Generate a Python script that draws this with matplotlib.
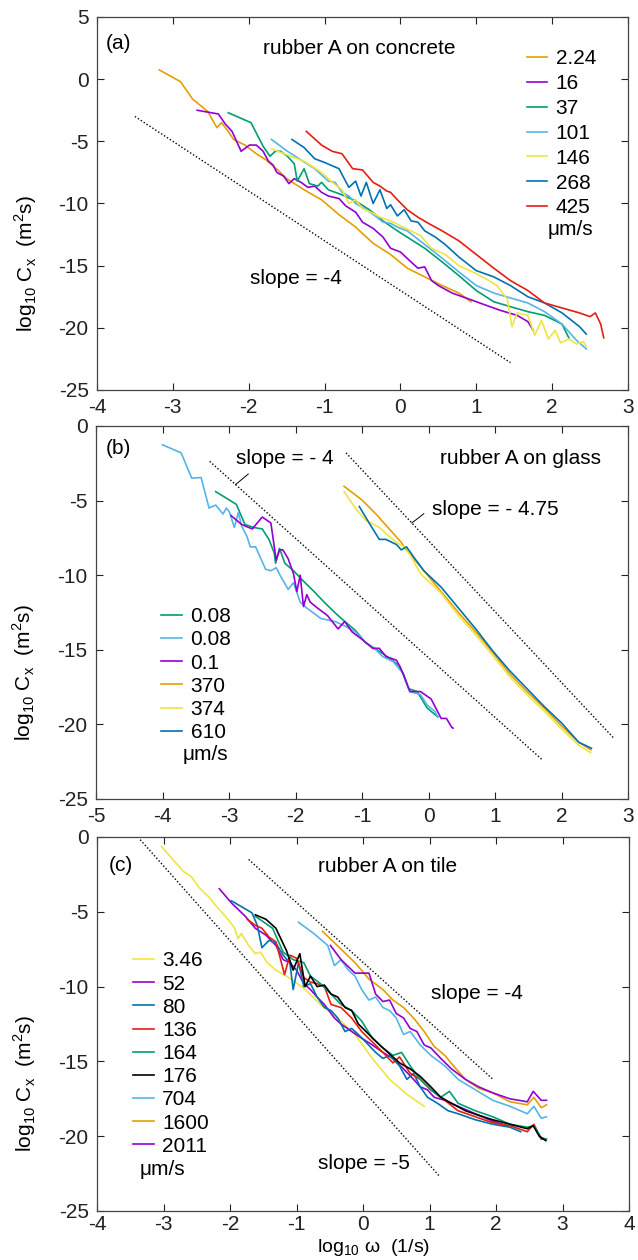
#!/usr/bin/env python3
import numpy as np
import matplotlib
matplotlib.use("Agg")
from matplotlib import pyplot as plt

plt.rcParams['font.family'] = ['Liberation Sans', 'DejaVu Sans']
plt.rcParams['mathtext.fontset'] = 'custom'
plt.rcParams['mathtext.rm'] = 'Liberation Sans'
plt.rcParams['font.size'] = 15
plt.rcParams['axes.unicode_minus'] = False

# gnuplot-like colour set
C_PURPLE = '#9400D3'
C_GREEN = '#009E73'
C_LBLUE = '#56B4E9'
C_ORANGE = '#E69F00'
C_YELLOW = '#F0E442'
C_BLUE = '#0072B2'
C_RED = '#E51E10'
C_BLACK = '#000000'

# %% panel (a): rubber A on concrete
a_labels = ['2.24', '16', '37', '101', '146', '268', '425']
a_x_224 = [-3.18, -2.9, -2.74, -2.54, -2.42, -2.36, -2.27, -2.2, -2.05, -1.9, -1.77, -1.6, -1.5,
           -1.27, -1.04, -0.81, -0.59, -0.36, -0.13, 0.09, 0.32, 0.55, 0.77, 0.93]
a_y_224 = [0.75, -0.2, -1.6, -2.6, -3.9, -3.5, -4.2, -4.85, -5.3, -6.0, -6.5, -7.4, -8.0,
           -8.9, -9.7, -10.9, -11.9, -13.2, -14.1, -15.2, -15.9, -16.6, -17.2, -17.9]
a_x_16 = [-2.68, -2.4, -2.31, -2.22, -2.1, -1.99, -1.9, -1.81, -1.74, -1.68, -1.63, -1.54, -1.47,
          -1.4, -1.31, -1.22, -1.13, -1.04, -0.95, -0.81, -0.72, -0.59, -0.5, -0.36, -0.23, -0.13,
          0.0, 0.14, 0.23, 0.32, 0.41, 0.5, 0.68, 0.91, 1.09, 1.32, 1.54, 1.68, 1.75]
a_y_16 = [-2.5, -2.8, -3.6, -4.2, -5.8, -5.3, -5.3, -5.8, -6.6, -6.9, -7.5, -7.8, -8.4,
          -8.0, -8.3, -8.7, -8.6, -9.1, -9.4, -9.6, -10.2, -10.7, -11.5, -12.0, -12.7, -13.6,
          -13.9, -14.7, -15.2, -15.1, -16.2, -16.6, -17.2, -17.7, -18.1, -18.6, -19.0, -19.5, -20.2]
a_x_37 = [-2.27, -1.97, -1.81, -1.72, -1.65, -1.58, -1.49, -1.4, -1.36, -1.27, -1.2, -1.09, -1.04,
          -0.95, -0.77, -0.59, -0.41, -0.23, -0.04, 0.14, 0.32, 0.55, 0.77, 1.0, 1.23, 1.45,
          1.68, 1.9, 2.13, 2.22]
a_y_37 = [-2.7, -3.5, -5.4, -6.2, -5.8, -5.8, -6.2, -6.8, -8.2, -7.2, -8.4, -8.6, -8.3,
          -8.9, -9.3, -9.8, -10.5, -11.4, -12.2, -12.9, -13.6, -14.7, -15.8, -17.0, -17.9, -18.3,
          -18.7, -19.0, -19.7, -20.8]
a_x_101 = [-1.7, -1.49, -1.31, -1.13, -0.95, -0.86, -0.77, -0.68, -0.59, -0.45, -0.31, -0.23,
           -0.13, -0.04, 0.09, 0.32, 0.55, 0.77, 1.0, 1.23, 1.45, 1.68, 1.9, 2.13, 2.32, 2.45]
a_y_101 = [-4.85, -5.8, -6.5, -7.2, -8.2, -8.3, -9.1, -9.4, -10.0, -10.5, -11.1, -11.5,
           -11.6, -11.9, -12.2, -13.3, -14.4, -15.5, -16.6, -17.2, -17.6, -18.0, -18.7, -19.7, -21.0, -21.7]
a_x_146 = [-1.7, -1.49, -1.27, -1.04, -0.9, -0.77, -0.68, -0.59, -0.5, -0.36, -0.27, -0.13, 0.0,
           0.14, 0.27, 0.41, 0.59, 0.77, 0.95, 1.14, 1.27, 1.41, 1.47, 1.54, 1.68, 1.77, 1.86,
           1.95, 2.04, 2.11, 2.22, 2.32, 2.41, 2.45]
a_y_146 = [-5.6, -6.1, -6.6, -7.5, -8.3, -8.9, -10.0, -9.7, -10.4, -10.8, -11.1, -11.4, -11.8,
           -12.2, -12.6, -13.6, -14.1, -15.0, -15.5, -16.1, -16.6, -17.7, -19.9, -18.8, -19.0, -20.6, -19.4,
           -20.9, -20.2, -21.2, -20.9, -21.3, -21.1, -21.5]
a_x_268 = [-1.43, -1.27, -1.13, -1.0, -0.81, -0.68, -0.59, -0.52, -0.45, -0.36, -0.27, -0.18,
           -0.13, -0.04, 0.05, 0.14, 0.23, 0.32, 0.46, 0.59, 0.77, 1.0, 1.23, 1.45, 1.68, 1.9,
           2.13, 2.36, 2.45]
a_y_268 = [-4.85, -5.5, -6.4, -6.7, -7.2, -8.7, -8.2, -9.4, -8.3, -10.0, -8.9, -10.4,
           -10.1, -11.0, -10.5, -11.4, -11.5, -12.2, -12.7, -13.3, -14.3, -15.4, -15.9, -16.6, -17.5, -18.0,
           -18.8, -19.9, -20.5]
a_x_425 = [-1.24, -1.04, -0.9, -0.77, -0.63, -0.5, -0.36, -0.27, -0.18, -0.13, -0.04, 0.09, 0.23,
           0.37, 0.55, 0.77, 1.0, 1.23, 1.45, 1.68, 1.9, 2.13, 2.36, 2.5, 2.57, 2.64, 2.68]
a_y_425 = [-4.2, -5.3, -5.8, -6.0, -7.2, -7.3, -8.3, -8.6, -9.0, -9.1, -9.7, -10.5, -11.1,
           -11.6, -12.2, -13.0, -14.1, -15.2, -16.2, -17.0, -18.0, -18.4, -18.8, -19.1, -18.8, -19.7, -20.8]

# %% panel (b): rubber A on glass
b_labels = ['0.08', '0.08', '0.1', '370', '374', '610']
b_x_008g = [-3.2, -2.89, -2.76, -2.63, -2.5, -2.4, -2.32, -2.3, -2.24, -2.16, -2.03, -1.88, -1.72,
            -1.57, -1.41, -1.26, -1.1, -0.95, -0.74, -0.59, -0.43, -0.3, -0.17, -0.02, 0.14]
b_y_008g = [-4.4, -5.25, -6.6, -6.8, -6.9, -7.6, -8.5, -9.2, -8.2, -9.2, -9.7, -10.4, -11.1,
            -11.8, -12.5, -13.1, -13.7, -14.5, -15.1, -15.55, -16.1, -17.6, -17.8, -18.9, -19.5]
b_x_008b = [-4.0, -3.72, -3.56, -3.42, -3.3, -3.2, -3.09, -3.04, -2.99, -2.92, -2.86, -2.81, -2.73,
            -2.68, -2.6, -2.53, -2.45, -2.37, -2.29, -2.22, -2.11, -2.03, -1.93, -1.83, -1.62, -1.41,
            -1.26, -1.1, -0.95, -0.79, -0.69, -0.53, -0.38, -0.28, -0.12, -0.02, 0.09, 0.14]
b_y_008b = [-1.26, -1.8, -3.5, -3.45, -5.5, -5.3, -5.9, -5.5, -5.8, -6.8, -5.8, -6.7, -7.4,
            -8.1, -8.1, -8.8, -9.6, -9.7, -9.5, -10.1, -10.95, -10.5, -11.8, -12.2, -12.9, -13.1,
            -13.4, -13.8, -14.5, -15.0, -15.45, -15.8, -16.6, -17.8, -18.0, -18.7, -19.1, -19.5]
b_x_01 = [-2.97, -2.81, -2.65, -2.5, -2.37, -2.29, -2.24, -2.19, -2.11, -2.03, -1.98, -1.93, -1.88,
          -1.83, -1.78, -1.67, -1.52, -1.36, -1.26, -1.15, -1.0, -0.84, -0.74, -0.64, -0.48, -0.38,
          -0.28, -0.12, 0.04, 0.19, 0.27, 0.35, 0.37]
b_y_01 = [-6.0, -6.6, -6.9, -6.1, -6.5, -9.0, -8.3, -8.3, -8.9, -9.9, -11.1, -10.0, -12.1,
          -11.3, -11.8, -12.2, -12.7, -13.6, -13.1, -13.8, -14.3, -14.9, -14.9, -15.45, -15.7, -16.6,
          -17.8, -17.8, -18.3, -19.6, -19.6, -20.2, -20.25]
b_x_370 = [-1.27, -1.0, -0.79, -0.59, -0.41, -0.33, -0.07, 0.19, 0.45, 0.71, 0.97, 1.22, 1.48,
           1.74, 2.0, 2.26, 2.44]
b_y_370 = [-4.04, -4.96, -5.9, -6.9, -7.8, -8.3, -9.7, -11.1, -12.5, -13.8, -15.2, -16.6, -17.8,
           -18.9, -20.1, -21.2, -21.7]
b_x_374 = [-1.27, -1.1, -0.95, -0.74, -0.59, -0.48, -0.33, -0.12, 0.19, 0.45, 0.71, 0.97, 1.22,
           1.48, 1.74, 2.0, 2.26, 2.44]
b_y_374 = [-4.4, -5.5, -6.3, -6.8, -7.4, -7.8, -8.2, -9.9, -11.2, -12.7, -14.0, -15.4, -16.8,
           -18.0, -19.1, -20.3, -21.4, -21.9]
b_x_610 = [-1.04, -0.9, -0.74, -0.64, -0.48, -0.41, -0.33, -0.22, -0.07, 0.19, 0.45, 0.71, 0.97,
           1.22, 1.48, 1.74, 2.0, 2.26, 2.45]
b_y_610 = [-5.4, -6.45, -7.6, -7.6, -7.95, -8.3, -8.1, -8.8, -9.7, -10.8, -12.2, -13.6, -15.1,
           -16.4, -17.6, -18.8, -19.9, -21.2, -21.6]

# %% panel (c): rubber A on tile
c_labels = ['3.46', '52', '80', '136', '164', '176', '704', '1600', '2011']
c_x_346 = [-3.03, -2.86, -2.7, -2.58, -2.45, -2.32, -2.19, -2.03, -1.93, -1.88, -1.83, -1.72, -1.62,
           -1.54, -1.44, -1.31, -1.15, -0.89, -0.64, -0.38, -0.12, 0.14, 0.4, 0.66, 0.92]
c_y_346 = [-0.64, -1.5, -2.3, -2.66, -3.46, -4.0, -4.7, -5.5, -6.1, -6.8, -6.45, -7.25, -7.8,
           -7.7, -8.4, -8.9, -9.3, -10.1, -11.2, -12.1, -13.2, -14.8, -16.2, -17.2, -18.0]
c_x_52 = [-2.16, -1.98, -1.77, -1.62, -1.46, -1.31, -1.2, -1.1, -1.0, -0.89, -0.79, -0.69, -0.58,
          -0.43, -0.33, -0.17, -0.02, 0.14, 0.3, 0.45, 0.61, 0.76, 0.86, 0.97, 1.07, 1.23, 1.43,
          1.69, 1.95, 2.16]
c_y_52 = [-3.46, -4.4, -5.3, -6.1, -6.56, -7.25, -8.2, -8.4, -8.9, -9.8, -10.2, -10.7, -11.2,
          -12.1, -12.5, -13.0, -13.45, -13.9, -14.4, -14.8, -15.5, -16.2, -16.7, -16.9, -17.4, -17.6, -18.0,
          -18.5, -19.0, -19.3]
c_x_80 = [-1.98, -1.67, -1.59, -1.52, -1.41, -1.31, -1.2, -1.1, -1.05, -0.97, -0.89, -0.79, -0.69,
          -0.58, -0.48, -0.38, -0.27, -0.17, -0.07, 0.04, 0.19, 0.3, 0.4, 0.55, 0.66, 0.76, 0.86,
          0.97, 1.12, 1.28, 1.43, 1.69, 1.95, 2.21, 2.37]
c_y_80 = [-4.26, -5.07, -5.9, -7.4, -6.9, -7.1, -7.9, -8.4, -10.2, -8.4, -10.0, -9.8, -10.7,
          -11.4, -11.6, -12.1, -13.0, -12.8, -13.2, -13.7, -14.4, -14.8, -14.6, -15.3, -16.2, -15.8, -16.7,
          -17.4, -17.8, -18.3, -18.5, -18.9, -19.2, -19.4, -19.7]
c_x_136 = [-1.74, -1.62, -1.52, -1.41, -1.31, -1.18, -1.1, -1.0, -0.89, -0.79, -0.69, -0.58, -0.48,
           -0.33, -0.17, -0.02, 0.14, 0.3, 0.45, 0.55, 0.71, 0.86, 1.02, 1.23, 1.43, 1.69, 1.95,
           2.21, 2.47, 2.57, 2.68, 2.75]
c_y_136 = [-5.5, -5.9, -6.1, -6.7, -7.0, -9.2, -7.9, -8.1, -9.4, -9.7, -9.8, -10.0, -11.2,
           -11.4, -12.1, -13.0, -13.7, -14.4, -15.1, -14.7, -15.8, -16.2, -16.9, -17.6, -18.3, -18.7, -19.1,
           -19.3, -19.7, -19.2, -20.2, -20.2]
c_x_164 = [-1.62, -1.36, -1.2, -1.05, -0.89, -0.79, -0.64, -0.48, -0.33, -0.17, -0.02, 0.14, 0.3,
           0.45, 0.58, 0.71, 0.86, 1.02, 1.17, 1.3, 1.43, 1.69, 1.95, 2.21, 2.47, 2.57, 2.68, 2.76]
c_y_164 = [-5.3, -6.1, -7.7, -8.2, -8.4, -9.3, -9.8, -10.5, -11.2, -11.6, -12.3, -13.45, -14.1,
           -14.6, -14.4, -15.3, -16.2, -16.9, -17.4, -17.0, -17.8, -18.3, -18.7, -19.2, -19.4, -19.3, -20.1, -20.2]
c_x_176 = [-1.62, -1.46, -1.31, -1.15, -1.05, -0.95, -0.87, -0.79, -0.69, -0.58, -0.48, -0.38, -0.27,
           -0.17, -0.07, 0.09, 0.25, 0.4, 0.55, 0.71, 0.86, 1.02, 1.17, 1.33, 1.54, 1.74, 1.95,
           2.21, 2.47, 2.56, 2.65, 2.75]
c_y_176 = [-5.2, -5.5, -6.1, -7.6, -8.9, -7.8, -10.0, -9.3, -10.0, -9.9, -10.5, -10.7, -11.4,
           -11.6, -12.5, -13.2, -13.9, -14.5, -15.1, -15.5, -16.0, -16.7, -17.4, -17.8, -18.3, -18.6, -18.9,
           -19.2, -19.5, -19.3, -20.0, -20.3]
c_x_704 = [-0.97, -0.74, -0.53, -0.43, -0.33, -0.22, -0.12, -0.02, 0.09, 0.19, 0.3, 0.4, 0.5,
           0.61, 0.71, 0.86, 1.02, 1.23, 1.43, 1.69, 1.95, 2.21, 2.47, 2.57, 2.68, 2.76]
c_y_704 = [-5.7, -6.45, -7.25, -8.6, -8.2, -8.9, -9.3, -10.2, -10.9, -10.7, -11.4, -11.6, -12.1,
           -13.2, -13.0, -13.9, -14.6, -15.3, -16.2, -16.9, -17.6, -18.0, -18.5, -18.0, -18.8, -18.7]
c_x_1600 = [-0.61, -0.33, -0.12, 0.09, 0.3, 0.45, 0.61, 0.76, 0.92, 1.07, 1.23, 1.38, 1.54,
            1.74, 1.95, 2.21, 2.47, 2.57, 2.68, 2.76]
c_y_1600 = [-6.3, -7.5, -8.4, -9.5, -10.2, -10.9, -11.4, -12.1, -13.0, -14.0, -14.6, -15.4, -16.2,
            -16.8, -17.1, -17.7, -17.9, -17.4, -18.1, -17.9]
c_x_2011 = [-0.49, -0.33, -0.12, 0.09, 0.19, 0.3, 0.4, 0.5, 0.61, 0.71, 0.81, 0.92, 1.02,
            1.17, 1.33, 1.54, 1.74, 1.95, 2.21, 2.47, 2.56, 2.68, 2.76]
c_y_2011 = [-7.25, -8.2, -9.1, -9.1, -10.5, -11.0, -10.9, -11.8, -12.1, -12.8, -13.0, -13.9, -14.1,
            -14.8, -15.5, -16.2, -16.7, -17.1, -17.5, -17.7, -17.0, -17.6, -17.6]

# guide lines: (x start, x end, y at x start, slope)
a_guide = [-3.5, 1.45, -3.0, -4.0]
b_guide1 = [-3.29, 1.71, -2.37, -4.0]
b_guide2 = [-1.24, 2.79, -1.8, -4.75]
c_guide1 = [-3.35, 1.16, -0.18, -5.0]
c_guide2 = [-1.72, 1.95, -1.5, -4.0]

W, H = 638, 1260
fig = plt.figure(figsize=(W / 100, H / 100), dpi=100)


def panel(left, top, right, bottom):
    ax = fig.add_axes([left / W, 1 - bottom / H, (right - left) / W, (bottom - top) / H])
    ax.tick_params(direction='in', top=True, right=True, length=5, width=0.8, pad=6,
                   labelsize=15, colors='#222222')
    for s in ax.spines.values():
        s.set_linewidth(0.9)
        s.set_color('#444444')
    ax.set_ylabel(r'log$_{\mathregular{10}}$ C$_{\mathregular{x}}$  (m$^{\mathregular{2}}$s)', fontsize=15)
    ax.yaxis.set_label_coords(-0.11, 0.34)
    return ax


def guide(ax, g):
    xs = np.array([g[0], g[1]])
    ax.plot(xs, g[2] + g[3] * (xs - g[0]), color='k', lw=1.0, ls=(0, (1, 1.5)))


def legend(ax, x, y, spacing):
    ax.legend(loc='upper left', bbox_to_anchor=(x, y), frameon=False, fontsize=15,
              handlelength=1.0, handletextpad=0.4, labelspacing=spacing,
              borderpad=0, borderaxespad=0)


LW = 1.2

# %% (a)
ax = panel(97, 17, 628, 390)
for xs, ys, c, lab in zip([a_x_224, a_x_16, a_x_37, a_x_101, a_x_146, a_x_268, a_x_425],
                          [a_y_224, a_y_16, a_y_37, a_y_101, a_y_146, a_y_268, a_y_425],
                          [C_ORANGE, C_PURPLE, C_GREEN, C_LBLUE, C_YELLOW, C_BLUE, C_RED],
                          a_labels):
    ax.plot(xs, ys, color=c, lw=LW, label=lab)
guide(ax, a_guide)
ax.set_xlim(-4, 3)
ax.set_ylim(-25, 5)
ax.set_xticks(range(-4, 4))
ax.set_yticks(range(-25, 6, 5))
legend(ax, 0.809, 0.913, 0.28)
ax.text(2.235, -12.1, 'μm/s', ha='center', va='center')
ax.text(-3.88, 2.85, '(a)', ha='left', va='center')
ax.text(-0.54, 2.5, 'rubber A on concrete', ha='center', va='center')
ax.text(-1.38, -16.05, 'slope = -4', ha='center', va='center')

# %% (b)
ax = panel(96, 426, 628, 799)
for xs, ys, c, lab in zip([b_x_008g, b_x_008b, b_x_01, b_x_370, b_x_374, b_x_610],
                          [b_y_008g, b_y_008b, b_y_01, b_y_370, b_y_374, b_y_610],
                          [C_GREEN, C_LBLUE, C_PURPLE, C_ORANGE, C_YELLOW, C_BLUE],
                          b_labels):
    ax.plot(xs, ys, color=c, lw=LW, label=lab)
guide(ax, b_guide1)
guide(ax, b_guide2)
ax.plot([-2.71, -2.9], [-3.22, -3.92], color='k', lw=0.7)
ax.plot([-0.07, -0.25], [-5.88, -6.5], color='k', lw=0.7)
ax.set_xlim(-5, 3)
ax.set_ylim(-25, 0)
ax.set_xticks(range(-5, 4))
ax.set_yticks(range(-25, 1, 5))
legend(ax, 0.123, 0.514, 0.2)
ax.text(-3.36, -22.05, 'μm/s', ha='center', va='center')
ax.text(-4.85, -1.5, '(b)', ha='left', va='center')
ax.text(1.38, -2.18, 'rubber A on glass', ha='center', va='center')
ax.text(-2.89, -2.18, 'slope = - 4', ha='left', va='center')
ax.text(0.06, -5.58, 'slope = - 4.75', ha='left', va='center')

# %% (c)
ax = panel(97, 837, 629, 1211)
for xs, ys, c, lab in zip([c_x_346, c_x_52, c_x_80, c_x_136, c_x_164, c_x_176, c_x_704, c_x_1600, c_x_2011],
                          [c_y_346, c_y_52, c_y_80, c_y_136, c_y_164, c_y_176, c_y_704, c_y_1600, c_y_2011],
                          [C_YELLOW, C_PURPLE, C_BLUE, C_RED, C_GREEN, C_BLACK, C_LBLUE, C_ORANGE, C_PURPLE],
                          c_labels):
    ax.plot(xs, ys, color=c, lw=LW, label=lab)
guide(ax, c_guide1)
guide(ax, c_guide2)
ax.set_xlim(-4, 4)
ax.set_ylim(-25, 0)
ax.set_xticks(range(-4, 5))
ax.set_yticks(range(-25, 1, 5))
ax.tick_params(axis='x', pad=3)
legend(ax, 0.068, 0.694, 0.2)
ax.text(-3.02, -22.2, 'μm/s', ha='center', va='center')
ax.text(-3.82, -1.91, '(c)', ha='left', va='center')
ax.text(0.37, -1.97, 'rubber A on tile', ha='center', va='center')
ax.text(1.71, -10.47, 'slope = -4', ha='center', va='center')
ax.text(0.01, -21.84, 'slope = -5', ha='center', va='center')
ax.set_xlabel(r'log$_{\mathregular{10}}$ ω  (1/s)', fontsize=14, labelpad=0)
ax.xaxis.set_label_coords(0.52, -0.07)

fig.savefig('out.png', dpi=100)
